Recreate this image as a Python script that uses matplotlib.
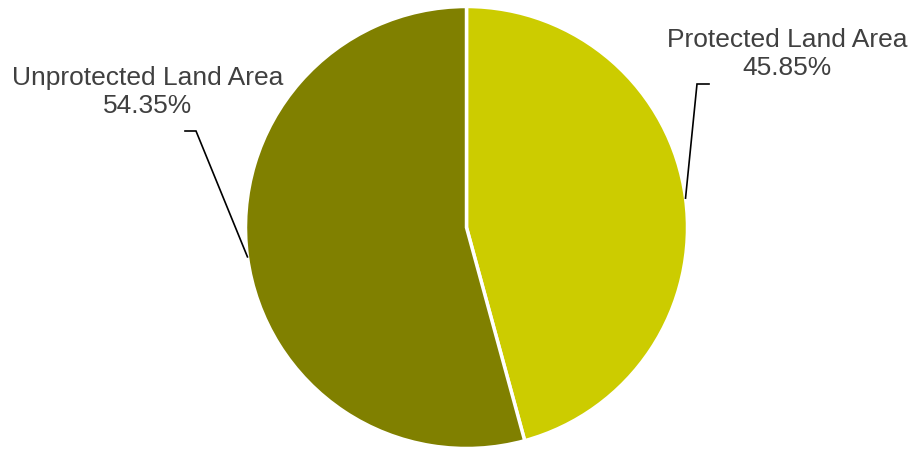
import numpy as np
import matplotlib.pyplot as plt

labels = ["Protected Land Area", "Unprotected Land Area"]
shares = [45.85, 54.35]
colors = ["#CCCC00", "#808000"]

fig = plt.figure(figsize=(9.16, 4.51), dpi=100)
ax = fig.add_axes([0, 0, 1, 1])

center = (466.5, 223.5)
radius = 221
wedges, _ = ax.pie(shares, colors=colors, startangle=90, counterclock=False,
                   center=center, radius=radius, frame=True,
                   wedgeprops=dict(edgecolor="white", linewidth=2.5))
ax.set_xlim(0, 916)
ax.set_ylim(0, 451)
ax.set_aspect("equal")
ax.axis("off")

# leader line elbows and text anchors (pixels, y up)
elbows = [(697, 367, 709), (196, 320, 185)]
text_pos = [(787, 397), (148, 359)]

for w, lab, val, (ex, ey, hx), (tx, ty) in zip(wedges, labels, shares, elbows, text_pos):
    ang = np.deg2rad((w.theta1 + w.theta2) / 2)
    px = center[0] + radius * np.cos(ang)
    py = center[1] + radius * np.sin(ang)
    ax.plot([px, ex, hx], [py, ey, ey], color="black", lw=1.2,
            solid_joinstyle="miter")
    ax.text(tx, ty, f"{lab}\n{val:.2f}%", ha="center", va="center",
            fontsize=19, color="#404040", family="Liberation Sans",
            linespacing=1.2)

fig.savefig("out.png", dpi=100)
